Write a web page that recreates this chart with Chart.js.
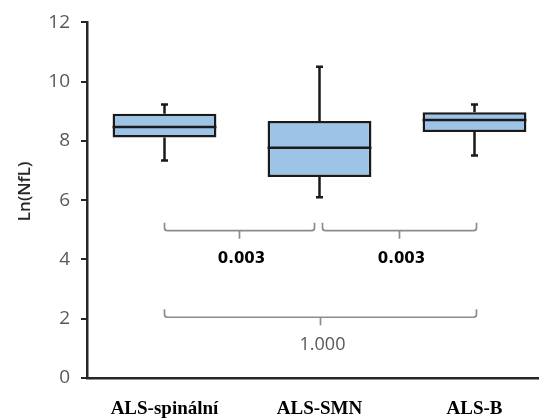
<!DOCTYPE html>
<html>
<head>
<meta charset="utf-8">
<script src="https://cdn.jsdelivr.net/npm/chart.js@4.4.1/dist/chart.umd.min.js"></script>
<style>
  html, body { margin: 0; padding: 0; background: #fff; overflow: hidden; }
  #wrap { width: 556px; height: 419px; }
</style>
</head>
<body>
<div id="wrap"><canvas id="c"></canvas></div>
<script>
// kategorie a hodnoty boxplotu (Ln NfL)
const categories = ['ALS-spinální', 'ALS-SMN', 'ALS-B'];
const mins    = [7.34, 6.10, 7.51];
const q1s     = [8.12, 6.78, 8.30];
const medians = [8.47, 7.77, 8.71];
const q3s     = [8.92, 8.67, 8.97];
const maxs    = [9.23, 10.50, 9.23];

// porovnání skupin (závorky + p-hodnoty)
const bracketFrom  = [0, 1, 0];
const bracketTo    = [1, 2, 2];
const bracketLevel = [4.97, 4.97, 2.05];
const pValues      = ['0.003', '0.003', '1.000'];
const pBold        = [true, true, false];

const axisColor = '#262626';
const boxLine = '#1a1a1a';

const boxExtras = {
    id: 'boxExtras',
    afterDatasetsDraw(chart) {
        const ctx = chart.ctx;
        const y = chart.scales.y;
        const x = chart.scales.x;
        const meta = chart.getDatasetMeta(0);
        ctx.save();
        ctx.strokeStyle = boxLine;
        ctx.lineWidth = 2.5;
        meta.data.forEach((bar, i) => {
            const cx = bar.x;
            const half = bar.width / 2;
            const cap = 3.5;
            ctx.beginPath();
            // median
            ctx.moveTo(cx - half, y.getPixelForValue(medians[i]));
            ctx.lineTo(cx + half, y.getPixelForValue(medians[i]));
            // whiskers
            ctx.moveTo(cx, y.getPixelForValue(q3s[i]));
            ctx.lineTo(cx, y.getPixelForValue(maxs[i]));
            ctx.moveTo(cx, y.getPixelForValue(q1s[i]));
            ctx.lineTo(cx, y.getPixelForValue(mins[i]));
            ctx.moveTo(cx - cap, y.getPixelForValue(maxs[i]));
            ctx.lineTo(cx + cap, y.getPixelForValue(maxs[i]));
            ctx.moveTo(cx - cap, y.getPixelForValue(mins[i]));
            ctx.lineTo(cx + cap, y.getPixelForValue(mins[i]));
            ctx.stroke();
        });

        // závorky
        ctx.strokeStyle = '#8c8c8c';
        ctx.lineWidth = 1.7;
        const h = 8, r = 3;
        bracketFrom.forEach((from, i) => {
            const to = bracketTo[i];
            const x1 = x.getPixelForValue(from) + (from === 0 ? 0 : 3);
            const x2 = x.getPixelForValue(to) + (to === categories.length - 1 ? 2 : -5);
            const by = y.getPixelForValue(bracketLevel[i]);
            const mid = (x1 + x2) / 2;
            ctx.beginPath();
            ctx.moveTo(x1, by - h);
            ctx.arcTo(x1, by, x1 + r, by, r);
            ctx.lineTo(x2 - r, by);
            ctx.arcTo(x2, by, x2, by - h, r);
            ctx.lineTo(x2, by - h);
            ctx.moveTo(mid, by);
            ctx.lineTo(mid, by + 8);
            ctx.stroke();

            ctx.textAlign = 'center';
            ctx.textBaseline = 'middle';
            if (pBold[i]) {
                ctx.font = 'bold 15px "DejaVu Sans"';
                ctx.fillStyle = '#000';
            } else {
                ctx.font = '18px "Open Sans"';
                ctx.fillStyle = '#595959';
            }
            ctx.fillText(pValues[i], mid + 2, by + 28);
        });
        ctx.restore();
    }
};

new Chart(document.getElementById('c'), {
    type: 'bar',
    data: {
        labels: categories,
        datasets: [{
            data: q1s.map((v, i) => [v, q3s[i]]),
            backgroundColor: '#9dc3e6',
            borderColor: boxLine,
            borderWidth: 2.5,
            borderSkipped: false,
            barPercentage: 0.67,
            categoryPercentage: 1
        }]
    },
    options: {
        responsive: true,
        maintainAspectRatio: false,
        animation: false,
        layout: { padding: { top: 20, right: 4, left: 0, bottom: 0 } },
        plugins: {
            legend: { display: false },
            tooltip: { enabled: false }
        },
        scales: {
            x: {
                grid: { display: false, drawTicks: false },
                border: { display: true, color: axisColor, width: 2.5 },
                ticks: {
                    color: '#000',
                    font: { family: '"Liberation Serif"', size: 19, weight: 'bold' },
                    padding: 20
                },
                afterFit: s => { s.height = 41; }
            },
            y: {
                min: 0,
                max: 12,
                ticks: {
                    stepSize: 2,
                    color: '#595959',
                    font: { family: '"Open Sans"', size: 19 },
                    padding: 11
                },
                grid: {
                    drawOnChartArea: false,
                    drawTicks: true,
                    tickLength: 6,
                    color: axisColor,
                    lineWidth: 2
                },
                border: { color: axisColor, width: 2.5 },
                title: {
                    display: true,
                    text: '    Ln(NfL)',
                    color: axisColor,
                    font: { family: '"Open Sans"', size: 17, weight: '600' },
                    padding: { top: 15, bottom: 0 }
                },
                afterFit: s => { s.width = 87; }
            }
        }
    },
    plugins: [boxExtras]
});
</script>
</body>
</html>
